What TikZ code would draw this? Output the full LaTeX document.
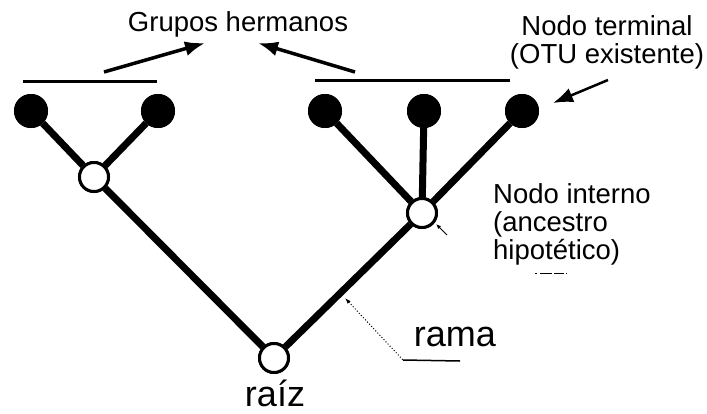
\documentclass[tikz,border=0pt]{standalone}
\usepackage{fontspec}
\setmainfont{Liberation Sans}
\usetikzlibrary{arrows.meta}
\begin{document}
\begin{tikzpicture}[x=1pt,y=-1pt,
  tip/.style={circle,fill=black,draw=black,line width=1pt,minimum size=33pt,inner sep=0pt},
  inner/.style={circle,fill=white,draw=black,line width=3pt,minimum size=29pt,inner sep=0pt},
  branch/.style={line width=7pt},
  bar/.style={line width=3pt},
  pointer/.style={line width=3.5pt,-{Latex[length=20pt,width=15pt]}},
  lbl/.style={font=\fontsize{27.5}{28}\selectfont,inner sep=0pt},
  big/.style={font=\fontsize{36}{38}\selectfont,inner sep=0pt}]
\useasboundingbox (0,0) rectangle (707,413);
% nodes
\node[tip] (t1) at (31,111) {};
\node[tip] (t2) at (158,111) {};
\node[tip] (t3) at (325,111) {};
\node[tip] (t4) at (424,111) {};
\node[tip] (t5) at (522,111) {};
\node[inner] (i1) at (94,177) {};
\node[inner] (i2) at (422,213) {};
\node[inner] (r) at (274,358) {};
% branches
\draw[branch] (r) -- (i1);
\draw[branch] (r) -- (i2);
\draw[branch] (i1) -- (t1);
\draw[branch] (i1) -- (t2);
\draw[branch] (i2) -- (t3);
\draw[branch] (i2) -- (t4);
\draw[branch] (i2) -- (t5);
% redraw nodes on top
\node[tip] at (t1) {};
\node[tip] at (t2) {};
\node[tip] at (t3) {};
\node[tip] at (t4) {};
\node[tip] at (t5) {};
\node[inner] at (i1) {};
\node[inner] at (i2) {};
\node[inner] at (r) {};
% sister group bars
\coordinate (b1a) at (23,81);
\coordinate (b1b) at (157,81);
\coordinate (b2a) at (315,80);
\coordinate (b2b) at (510,80);
\draw[bar] (b1a) -- (b1b);
\draw[bar] (b2a) -- (b2b);
% labels
\node[lbl,anchor=base] (gh) at (238,31) {Grupos hermanos};
\node[lbl,align=center,anchor=base] (nt) at (607,63) {Nodo terminal\\(OTU existente)};
\node[lbl,align=left,anchor=north west] (ni) at (493,183) {Nodo interno\\(ancestro\\hipotético)};
\node[big,anchor=base] (rama) at (455,346) {rama};
\node[big,anchor=base] (raiz) at (275,406) {raíz};
% arrows
\coordinate (a1) at (104,72);
\coordinate (a1h) at (205,43);
\coordinate (a2) at (355,72);
\coordinate (a2h) at (258,43);
\draw[pointer] (a1) -- (a1h);
\draw[pointer] (a2) -- (a2h);
\coordinate (a3) at (608,80);
\coordinate (a3h) at (553,103);
\draw[pointer,line width=2.5pt] (a3) -- (a3h);
% internal node pointer remnant
\coordinate (p1) at (447,235);
\coordinate (p1h) at (436,224);
\draw[line width=1pt,-{Latex[length=5pt,width=4pt]}] (p1) -- (p1h);
\coordinate (m1) at (535,273);
\coordinate (m2) at (567,273);
\draw[line width=0.8pt,dash pattern=on 2pt off 3pt on 12pt off 2pt on 10pt] (m1) -- (m2);
% rama leader
\coordinate (rl0) at (345,298);
\coordinate (rl1) at (403,360);
\coordinate (rl2) at (460,361);
\draw[line width=1pt,dotted,{Latex[length=6pt,width=4pt]}-] (rl0) -- (rl1);
\draw[line width=1.5pt] (rl1) -- (rl2);
\end{tikzpicture}
\end{document}
